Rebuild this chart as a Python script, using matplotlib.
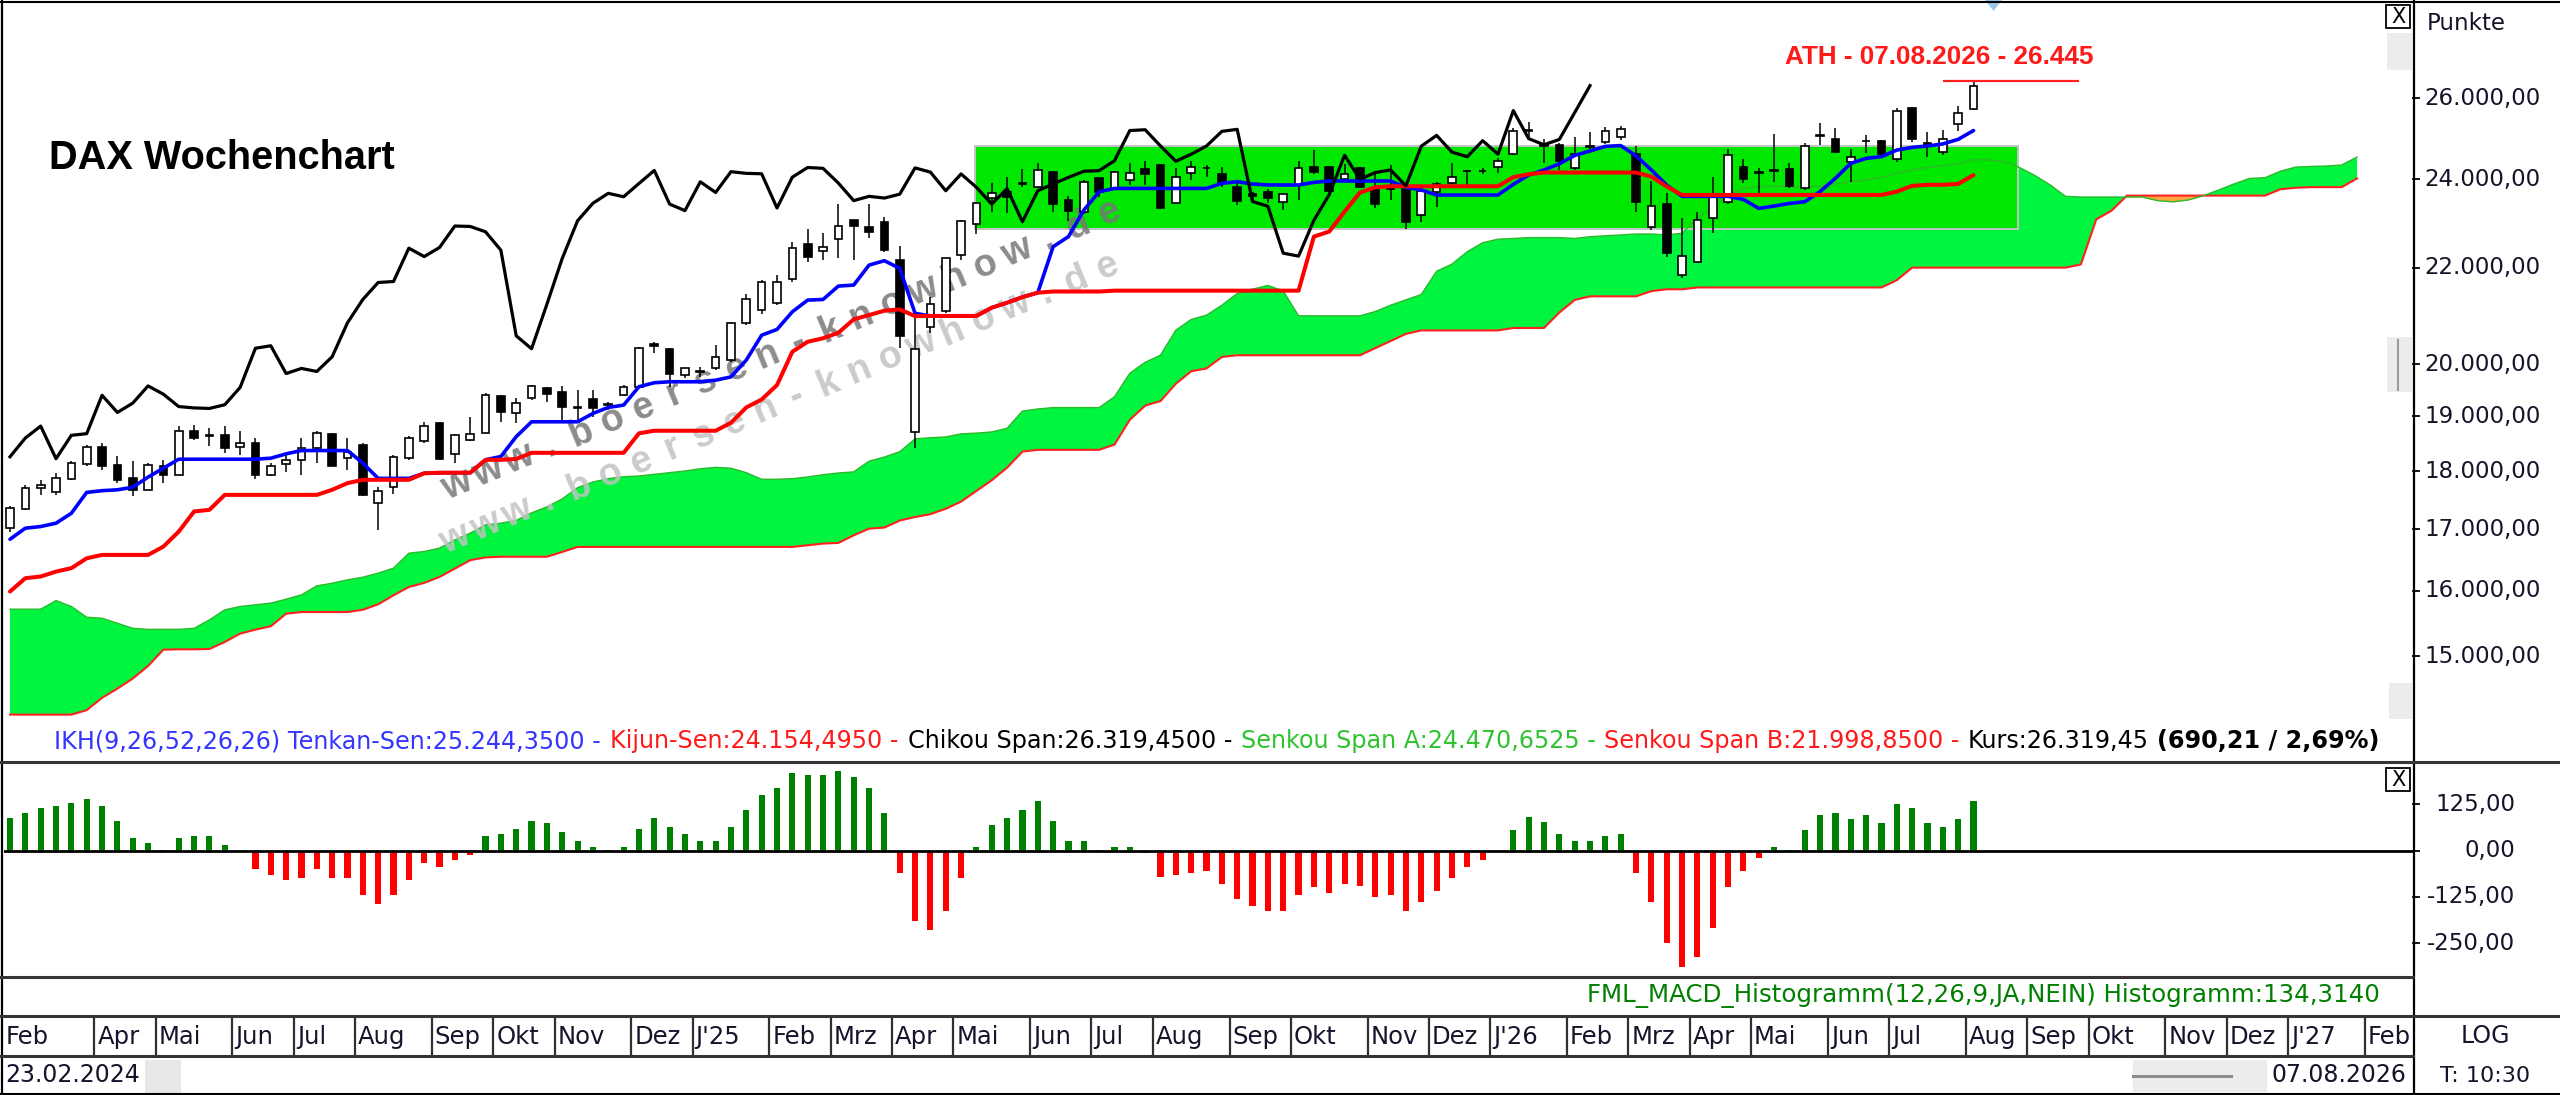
import numpy as np
import pandas as pd
import matplotlib
matplotlib.use("Agg")
import matplotlib.pyplot as plt
from matplotlib.patches import Rectangle, Polygon
from matplotlib.lines import Line2D
from matplotlib.transforms import blended_transform_factory

# ------------------------------------------------------------------ data
start_date = "2024-02-23"          # first weekly bar
chikou_shift = 25                  # bars the Chikou span is shifted back

opens = [17020, 17340, 17700, 17630, 17860, 18130, 18440, 18115, 17880, 17675,
         18100, 17940, 18720, 18660, 18660, 18440, 18510, 17940, 18130, 18205,
         18410, 18680, 18235, 18470, 17440, 17730, 18235, 18540, 18885, 18310,
         18560, 18700, 19390, 19056, 19340, 19530, 19470, 19170, 19325, 19225,
         19405, 19564, 20400, 20297, 19790, 19855, 19920, 20090, 20825, 21100,
         21240, 21745, 22515, 22370, 22620, 23060, 22890, 23020, 22175, 18717,
         20750, 21070, 22265, 22970, 23560, 23700, 23920, 23810, 24180, 23515,
         23247, 24020, 23785, 23985, 24236, 24340, 23453, 24142, 24260, 24126,
         23810, 23655, 23710, 23476, 23865, 24284, 24300, 23998, 24260, 23785,
         23810, 23762, 23170, 23706, 23920, 24205, 24200, 24300, 24605, 25160,
         24825, 24825, 24260, 24770, 24905, 25010, 24605, 22907, 23423, 21843,
         22132, 23095, 23477, 24300, 24175, 24205, 24237, 23788, 25040, 24960,
         24420, 24930, 24930, 24476, 25736, 24880, 24660, 25343, 25711]
highs = [17400, 17760, 17850, 17965, 18175, 18470, 18510, 18265, 18175, 18145,
         18205, 18815, 18845, 18780, 18815, 18720, 18600, 18145, 18290, 18600,
         18720, 18690, 18600, 18510, 17730, 18290, 18630, 18905, 18905, 18680,
         18995, 19440, 19410, 19340, 19600, 19564, 19575, 19500, 19500, 19280,
         19600, 20350, 20445, 20317, 19935, 19950, 20383, 20858, 21433, 21730,
         21838, 22567, 22845, 22755, 23420, 23060, 23420, 23120, 22470, 21030,
         21375, 22210, 23060, 23450, 23905, 24060, 24236, 24395, 24200, 23607,
         23985, 24040, 24205, 24380, 24443, 24360, 24260, 24443, 24340, 24284,
         23943, 23710, 23760, 23670, 24443, 24702, 24316, 24364, 24300, 24180,
         24340, 23810, 23785, 23943, 24395, 24220, 24260, 24499, 25238, 25400,
         24960, 24865, 25030, 25145, 25276, 25293, 24800, 23968, 23686, 23095,
         23247, 24062, 24720, 24476, 24260, 25094, 24380, 24865, 25360, 25235,
         24720, 25070, 24940, 25736, 25778, 25135, 25193, 25795, 26445]
lows = [16960, 17330, 17590, 17590, 17850, 18100, 18026, 17790, 17560, 17665,
        17790, 17930, 18570, 18460, 18330, 18290, 17860, 17910, 17995, 17940,
        18145, 18100, 18015, 17560, 16990, 17610, 18205, 18510, 18205, 18145,
        18540, 18690, 18905, 18870, 19310, 19280, 18930, 18930, 18990, 19120,
        19380, 19530, 20220, 19564, 19740, 19760, 19890, 20055, 20790, 21020,
        21205, 21695, 22125, 22160, 22200, 22160, 22645, 22350, 20320, 18410,
        20620, 21030, 22160, 22740, 23245, 23210, 23810, 23790, 23247, 23040,
        23200, 23592, 23745, 23865, 23865, 23300, 23440, 23985, 24063, 23810,
        23400, 23515, 23453, 23284, 23515, 24126, 23706, 23940, 23785, 23323,
        23515, 22846, 23017, 23347, 23900, 23841, 24126, 24158, 24580, 25030,
        24380, 24220, 24220, 24620, 24860, 24946, 23248, 22832, 22240, 21771,
        22096, 22758, 23423, 23905, 23671, 23944, 23788, 23750, 24825, 24620,
        23944, 24620, 24500, 24420, 24905, 24540, 24580, 25176, 25694]
closes = [17360, 17700, 17760, 17890, 18145, 18440, 18100, 17850, 17675, 18115,
          17940, 18720, 18600, 18640, 18410, 18510, 17940, 18100, 18205, 18410,
          18700, 18100, 18350, 17590, 17650, 18260, 18600, 18820, 18225, 18650,
          18680, 19400, 19075, 19250, 19580, 19420, 19185, 19160, 19150, 19220,
          19550, 20320, 20370, 19820, 19920, 19860, 20150, 20836, 21320, 21680,
          21700, 22425, 22240, 22440, 22920, 22910, 22790, 22380, 20570, 20310,
          21220, 22200, 23040, 23440, 23670, 23590, 23900, 24210, 23420, 23270,
          23940, 23690, 24180, 24140, 24130, 23330, 24050, 24280, 24260, 23910,
          23500, 23600, 23560, 23650, 24270, 24170, 23730, 24126, 23810, 23420,
          23780, 23017, 23730, 23890, 24045, 24190, 24205, 24443, 25180, 25200,
          24800, 24430, 24600, 24800, 25160, 25210, 23480, 23370, 22315, 22250,
          23050, 23640, 24575, 24000, 24160, 24220, 23845, 24795, 25060, 24650,
          24540, 24930, 24600, 25680, 24980, 24830, 24960, 25629, 26319.45]

tenkan = [16835, 17019, 17047, 17103, 17271, 17630, 17660, 17675, 17720, 17897,
          18055, 18216, 18216, 18216, 18216, 18216, 18216, 18234, 18312, 18372,
          18372, 18372, 18372, 18147, 17875, 17875, 17875, 17965, 17975, 17975,
          17975, 18205, 18265, 18625, 18900, 18900, 18900, 18900, 19056, 19169,
          19213, 19564, 19641, 19660, 19660, 19660, 19690, 19755, 20085, 20583,
          20700, 21063, 21307, 21320, 21603, 21625, 22054, 22150, 21984, 21031,
          20977, 20977, 20977, 20977, 21148, 21252, 21370, 21463, 22457, 22682,
          23281, 23707, 23785, 23785, 23785, 23785, 23785, 23785, 23785, 23904,
          23943, 23888, 23865, 23865, 23865, 23927, 23959, 23959, 23959, 23959,
          23959, 23810, 23748, 23630, 23630, 23630, 23630, 23630, 23880, 24100,
          24220, 24370, 24570, 24680, 24790, 24810, 24560, 24220, 23860, 23600,
          23600, 23600, 23600, 23528, 23321, 23375, 23436, 23474, 23710, 24024,
          24379, 24500, 24540, 24700, 24766, 24800, 24850, 24962, 25180]
kijun = [15990, 16201, 16228, 16307, 16362, 16522, 16577, 16577, 16577, 16577,
         16714, 16962, 17302, 17330, 17587, 17587, 17587, 17587, 17587, 17587,
         17587, 17675, 17792, 17850, 17850, 17850, 17850, 17965, 17975, 17975,
         17975, 18205, 18205, 18220, 18331, 18331, 18331, 18331, 18331, 18331,
         18331, 18686, 18734, 18734, 18734, 18734, 18734, 18882, 19169, 19320,
         19596, 20250, 20450, 20520, 20632, 20906, 20996, 21085, 21113, 20973,
         20977, 20977, 20977, 20977, 21148, 21252, 21370, 21463, 21488, 21488,
         21488, 21488, 21506, 21506, 21506, 21506, 21506, 21506, 21506, 21506,
         21506, 21506, 21506, 21506, 21506, 22682, 22795, 23248, 23687, 23811,
         23835, 23835, 23835, 23835, 23835, 23835, 23835, 23835, 24050, 24120,
         24160, 24160, 24160, 24160, 24160, 24160, 24160, 24062, 23829, 23632,
         23632, 23632, 23632, 23632, 23632, 23632, 23632, 23632, 23632, 23632,
         23632, 23632, 23632, 23710, 23845, 23869, 23869, 23890, 24100]

senkou_a = [15714, 15714, 15714, 15848, 15756, 15590, 15575, 15498, 15421, 15405,
            15405, 15405, 15421, 15549, 15704, 15756, 15782, 15808, 15870, 15937,
            16079, 16121, 16175, 16217, 16282, 16362, 16605, 16633, 16688, 16825,
            16936, 17075, 17103, 17150, 17278, 17380, 17517, 17712, 17812, 17870,
            17905, 17917, 17946, 17976, 18006, 18045, 18070, 18055, 17975, 17860,
            17860, 17870, 17900, 17940, 17970, 17990, 18180, 18255, 18350, 18585,
            18605, 18620, 18676, 18690, 18712, 18780, 19100, 19140, 19166, 19166,
            19166, 19166, 19370, 19827, 20040, 20182, 20685, 20904, 20993, 21200,
            21446, 21537, 21616, 21500, 20979, 20979, 20979, 20979, 20979, 21068,
            21200, 21312, 21425, 21921, 22075, 22348, 22545, 22625, 22640, 22660,
            22660, 22660, 22640, 22680, 22700, 22718, 22740, 22740, 22718, 22758,
            23095, 23362, 23630, 23785, 23825, 23840, 23825, 23810, 23840, 23890,
            23944, 23983, 24046, 24141, 24220, 24284, 24316, 24364, 24470, 24460,
            24420, 24280, 24090, 23866, 23600, 23584, 23584, 23584, 23584, 23584,
            23500, 23473, 23515, 23617, 23750, 23892, 24020, 24037, 24190, 24290,
            24305, 24315, 24340, 24530]
senkou_b = [14164, 14164, 14164, 14164, 14164, 14226, 14400, 14531, 14676, 14859,
            15100, 15105, 15105, 15110, 15215, 15340, 15401, 15452, 15645, 15670,
            15670, 15670, 15670, 15705, 15790, 15930, 16062, 16126, 16221, 16355,
            16491, 16536, 16547, 16547, 16547, 16547, 16626, 16708, 16708, 16708,
            16708, 16708, 16708, 16708, 16708, 16708, 16708, 16708, 16708, 16708,
            16708, 16708, 16735, 16763, 16774, 16900, 17011, 17030, 17148, 17208,
            17256, 17348, 17471, 17656, 17842, 18065, 18353, 18385, 18385, 18385,
            18385, 18385, 18480, 18937, 19204, 19290, 19622, 19865, 19920, 20146,
            20180, 20180, 20180, 20180, 20180, 20180, 20180, 20180, 20180, 20322,
            20466, 20609, 20680, 20680, 20680, 20680, 20680, 20680, 20730, 20730,
            20730, 21047, 21310, 21386, 21386, 21386, 21386, 21496, 21535, 21535,
            21574, 21574, 21574, 21574, 21574, 21574, 21574, 21574, 21574, 21574,
            21574, 21574, 21574, 21730, 21999, 21999, 21999, 21999, 21999, 21999,
            21999, 21999, 21999, 21999, 21999, 22070, 23070, 23270, 23617, 23617,
            23617, 23617, 23617, 23617, 23617, 23617, 23617, 23617, 23765, 23800,
            23815, 23815, 23815, 24020]

macd_hist = [87, 103, 116, 121, 128, 139, 122, 81, 34, 22,
             1, 33, 40, 40, 15, -2, -50, -66, -79, -73,
             -50, -73, -73, -120, -144, -120, -79, -32, -43, -25,
             -12, 40, 45, 58, 81, 76, 51, 27, 9, 1,
             9, 58, 87, 63, 45, 27, 27, 63, 110, 150,
             168, 210, 204, 204, 216, 198, 168, 102, -61, -191,
             -214, -162, -73, 9, 69, 87, 110, 134, 81, 27,
             27, 1, 9, 9, -7, -72, -66, -61, -54, -90,
             -131, -149, -162, -162, -120, -97, -113, -90, -95, -124,
             -120, -162, -138, -108, -73, -43, -25, -3, 56, 92,
             78, 45, 27, 27, 40, 45, -61, -138, -250, -313,
             -286, -209, -97, -54, -21, 9, 2, 56, 96, 103,
             85, 96, 74, 126, 114, 74, 63, 85, 134.314]

box_low, box_high = 22860, 24790          # green range box (price)
box_bar_from, box_bar_to = 62.9, 130.9    # green range box (bars)
ath_value = 26445
ath_bar_from, ath_bar_to = 126.0, 134.9
ath_label = "ATH - 07.08.2026 - 26.445"
title = "DAX Wochenchart"
price_ticks = [26000, 24000, 22000, 20000, 19000, 18000, 17000, 16000, 15000]
macd_ticks = [125, 0, -125, -250]
month_names = ["J'", "Feb", "Mrz", "Apr", "Mai", "Jun", "Jul", "Aug", "Sep", "Okt", "Nov", "Dez"]
legend_items = [
    ("IKH(9,26,52,26,26) Tenkan-Sen:25.244,3500 -", "#3535ff", "normal"),
    ("Kijun-Sen:24.154,4950 -", "#ff1a1a", "normal"),
    ("Chikou Span:26.319,4500 -", "#000000", "normal"),
    ("Senkou Span A:24.470,6525 -", "#2fc42f", "normal"),
    ("Senkou Span B:21.998,8500 -", "#ff1a1a", "normal"),
    ("Kurs:26.319,45", "#000000", "normal"),
    ("(690,21 / 2,69%)", "#000000", "bold"),
]
macd_label = "FML_MACD_Histogramm(12,26,9,JA,NEIN) Histogramm:134,3140"
first_date_label = "23.02.2024"
last_date_label = "07.08.2026"
scale_label = "LOG"
time_label = "T: 10:30"
watermark = "www.boersen-knowhow.de"

n = len(closes)
for arr in (opens, highs, lows, tenkan, kijun, macd_hist):
    assert len(arr) == n, len(arr)
assert len(senkou_a) == len(senkou_b)

# ------------------------------------------------------------------ layout
W, H = 2560, 1095
fig = plt.figure(figsize=(W / 100, H / 100), dpi=100)
fig.patch.set_facecolor("white")
UI = ["DejaVu Sans"]
ARIAL = ["Liberation Sans", "DejaVu Sans"]
TXT = "#14142a"


def fbox(x0, y0, x1, y1):
    return [x0 / W, 1 - y1 / H, (x1 - x0) / W, (y1 - y0) / H]


PX0, PX1 = 3.5, 2413.0
BAR0_PX, BAR_STEP = 10.0, 15.34
xlo = (PX0 - BAR0_PX) / BAR_STEP
xhi = (PX1 - BAR0_PX) / BAR_STEP

ax = fig.add_axes(fbox(PX0, 3, PX1, 762))
ax.set_xlim(xlo, xhi)
ax.set_yscale("log")
ax.set_ylim(13518, 28551)
ax.axis("off")

axm = fig.add_axes(fbox(PX0, 762, PX1, 977))
axm.set_xlim(xlo, xhi)
axm.set_ylim(-341, 239.5)
axm.axis("off")

axd = fig.add_axes(fbox(PX0, 1016, PX1, 1056))
axd.set_xlim(xlo, xhi)
axd.set_ylim(0, 1)
axd.axis("off")

ov = fig.add_axes([0, 0, 1, 1])
ov.set_xlim(0, W)
ov.set_ylim(H, 0)
ov.axis("off")
ov.set_zorder(10)
ov.patch.set_visible(False)

# ------------------------------------------------------------------ cloud, box
xc = np.arange(len(senkou_a))
A = np.array(senkou_a, float)
B = np.array(senkou_b, float)
ax.fill_between(xc, A, B, where=A >= B, interpolate=True, color="#00f63e", lw=0, zorder=1)
ax.fill_between(xc, A, B, where=A < B, interpolate=True, color="#ffa640", lw=0, zorder=1)
ax.plot(xc, B, color="#ff2020", lw=1.5, zorder=1.5)

ax.add_patch(Rectangle((box_bar_from, box_low), box_bar_to - box_bar_from, box_high - box_low,
                       facecolor="#00e800", edgecolor="#c4c4c4", lw=1.4, zorder=2))
ax.plot(xc, A, color="#2db82d", lw=1.0, zorder=2.5)

# ------------------------------------------------------------------ watermark
ang = 22.6
dx, dy = 31.1, -12.95
perp = (np.sin(np.radians(ang)) * 9.0, np.cos(np.radians(ang)) * 9.0)
for (sx, sy, col, al) in [(457, 486, "#777777", 0.85), (455, 540, "#c2c2c2", 0.85)]:
    for k, ch in enumerate(watermark):
        ax.text(sx + k * dx + perp[0], sy + k * dy + perp[1], ch, transform=ov.transData,
                rotation=ang, rotation_mode="anchor", ha="center", va="baseline",
                fontsize=27, fontweight="bold", family=ARIAL, color=col, alpha=al, zorder=3)

# ------------------------------------------------------------------ candles
x = np.arange(n)
o = np.array(opens, float)
h = np.array(highs, float)
l = np.array(lows, float)
c = np.array(closes, float)
up = c >= o
ax.vlines(x, l, h, color="black", lw=1.1, zorder=5)
ax.bar(x, np.abs(c - o), bottom=np.minimum(o, c), width=0.5,
       color=np.where(up, "white", "black"), edgecolor="black", lw=1.2, zorder=6)

# ------------------------------------------------------------------ ichimoku lines
ax.plot(x, tenkan, color="#0000ff", lw=2.6, zorder=7, solid_capstyle="round")
ax.plot(x, kijun, color="#ff0000", lw=2.9, zorder=7.2, solid_capstyle="round")
ax.plot(np.arange(n - chikou_shift), c[chikou_shift:], color="black", lw=2.3, zorder=7.4)

# ATH
ax.hlines(ath_value, ath_bar_from, ath_bar_to, color="#ff2020", lw=1.6, zorder=8)

# ------------------------------------------------------------------ MACD
mh = np.array(macd_hist, float)
axm.bar(x, mh, width=0.4, color=np.where(mh >= 0, "#008000", "#ff0000"), lw=0, zorder=2)
axm.axhline(0, color="black", lw=2.0, zorder=3)

# ------------------------------------------------------------------ text helpers
renderer = fig.canvas.get_renderer()


def text_w(s, **kw):
    t = ov.text(0, 0, s, **kw)
    w = t.get_window_extent(renderer).width
    t.remove()
    return w


def fit(t, width_px):
    w = t.get_window_extent(renderer).width
    t.set_fontsize(t.get_fontsize() * width_px / w)


def de(v, dec=2):
    s = f"{v:,.{dec}f}"
    return s.replace(",", "#").replace(".", ",").replace("#", ".")


# title / ATH label
t = ov.text(49, 158, title, ha="left", va="center", fontsize=27, fontweight="bold", family=ARIAL)
fit(t, 346)
t = ov.text(1939.5, 57, ath_label, ha="center", va="center", fontsize=19, fontweight="bold",
            family=ARIAL, color="#ff1a1a")
fit(t, 309)

# legend line (coloured segments)
fs0 = 15.0
bar_w = text_w("|", fontsize=fs0, family=UI)
space_w = text_w("a a", fontsize=fs0, family=UI) - text_w("aa", fontsize=fs0, family=UI)
widths = [text_w(s + "|", fontsize=fs0, family=UI, fontweight=wt) - bar_w for s, _, wt in legend_items]
total = sum(widths) + space_w * (len(widths) - 1)
scale = 2327.0 / total
fs = fs0 * scale
xpos = 54.0
for (s, col, wt), w in zip(legend_items, widths):
    ov.text(xpos, 741, s, ha="left", va="center", fontsize=fs, family=UI, color=col, fontweight=wt)
    xpos += (w + space_w) * scale

# MACD label
t = ov.text(2380, 996, macd_label, ha="right", va="center", fontsize=16, family=UI, color="#008000")
fit(t, 794)

# right axis labels
tr_price = blended_transform_factory(ov.transData, ax.transData)
for v in price_ticks:
    ov.text(2424, v, de(v), transform=tr_price, ha="left", va="center", fontsize=16.5,
            family=UI, color=TXT)
    ov.add_line(Line2D([2413, 2419], [v, v], transform=tr_price, color="black", lw=1.3))
ov.text(2427, 23, "Punkte", ha="left", va="center", fontsize=16.5, family=UI, color=TXT)

tr_macd = blended_transform_factory(ov.transData, axm.transData)
for v in macd_ticks:
    ov.text(2515, v, de(v), transform=tr_macd, ha="right", va="center", fontsize=16.5,
            family=UI, color=TXT)
    ov.add_line(Line2D([2413, 2419], [v, v], transform=tr_macd, color="black", lw=1.3))

# ------------------------------------------------------------------ date strip
dates = pd.date_range(start_date, periods=int(np.ceil(xhi)) + 2, freq="7D")
last_i = -10
prev_month = None
for i, d in enumerate(dates):
    if d.month != prev_month:
        prev_month = d.month
        if i - last_i < 3:
            continue
        if i - 0.5 >= xhi - 0.3:      # month starts outside the visible strip
            continue
        last_i = i
        lab = month_names[d.month - 1]
        if d.month == 1:
            lab = lab + f"{d.year % 100:02d}"
        if i > 0:
            axd.vlines(i - 0.5, 0, 1, color="#303030", lw=1.6)
        axd.text(i - 0.5 + 3.0 / BAR_STEP, 0.47, lab, ha="left", va="center", fontsize=17.5,
                 family=UI, color=TXT, clip_on=True)

# ------------------------------------------------------------------ frame / ui
def hline(y, x0, x1, col="#353535", lw=2.2):
    ov.add_line(Line2D([x0, x1], [y, y], color=col, lw=lw))


def vline(xv, y0, y1, col="black", lw=1.6):
    ov.add_line(Line2D([xv, xv], [y0, y1], color=col, lw=lw))


hline(1.5, 0, W, "black", 1.5)
vline(2, 0, H)
vline(2413.5, 0, H)
hline(762, 0, W)
hline(977, 0, 2413)
hline(1016, 0, W)
hline(1056, 0, 2413)
hline(1093.5, 0, W, "black", 1.5)

ov.text(5, 1075, first_date_label, ha="left", va="center", fontsize=17, family=UI, color=TXT)
ov.add_patch(Rectangle((145, 1060), 36, 33, facecolor="#e8e8e8", edgecolor="none"))
ov.add_patch(Rectangle((2133, 1060), 134, 32, facecolor="#ececec", edgecolor="none"))
hline(1076, 2133, 2231, "#8c8c8c", 2.2)
ov.text(2406, 1075, last_date_label, ha="right", va="center", fontsize=17, family=UI, color=TXT)
ov.text(2485, 1036, scale_label, ha="center", va="center", fontsize=17, family=UI, color=TXT)
ov.text(2485, 1076, time_label, ha="center", va="center", fontsize=16, family=UI, color=TXT)

for (bx, by) in [(2386, 5), (2386, 768)]:
    ov.add_patch(Rectangle((bx, by), 24, 23, facecolor="white", edgecolor="black", lw=1.3))
    ov.text(bx + 12, by + 12, "X", ha="center", va="center", fontsize=15, family=UI)
ov.add_patch(Rectangle((2387, 33), 25, 37, facecolor="#ececec", edgecolor="none"))
ov.add_patch(Rectangle((2387, 337), 25, 55, facecolor="#ececec", edgecolor="none"))
vline(2398, 340, 390, "#9a9a9a", 1.5)
ov.add_patch(Rectangle((2389, 683), 23, 36, facecolor="#ececec", edgecolor="none"))
ov.add_patch(Polygon([(1985, 0), (2002, 0), (1993.5, 11)], closed=True,
                     facecolor="#9cc8f0", edgecolor="none"))

fig.savefig("out.png", dpi=100, facecolor="white")
